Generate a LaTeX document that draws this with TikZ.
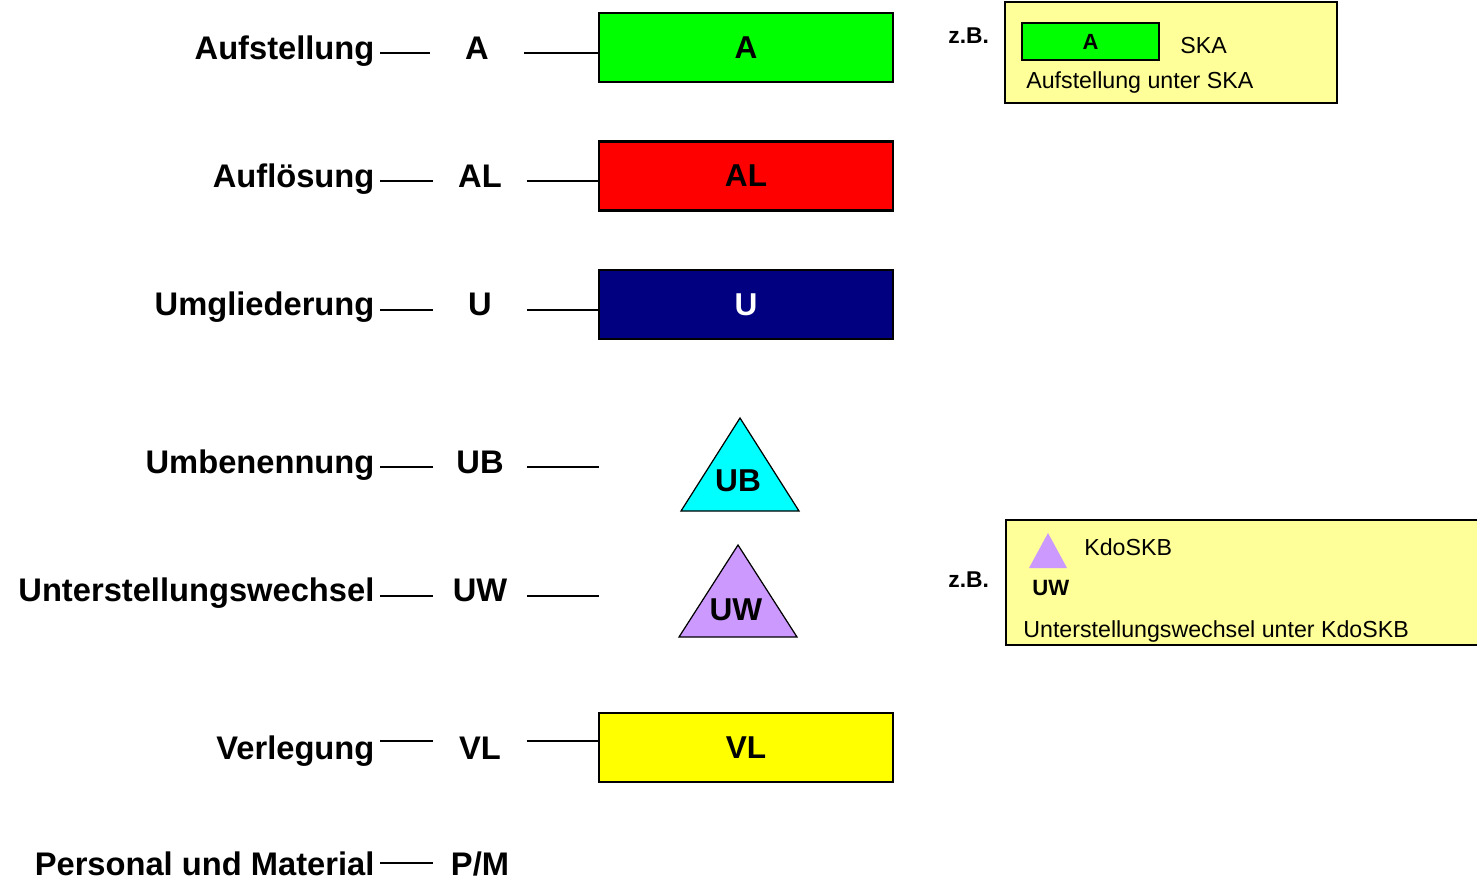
\documentclass[tikz,border=0pt]{standalone}
\usepackage{fontspec}
\setmainfont{Liberation Sans}
\definecolor{barA}{HTML}{00FF00}
\definecolor{barAL}{HTML}{FF0000}
\definecolor{barU}{HTML}{000080}
\definecolor{barVL}{HTML}{FFFF00}
\definecolor{triUB}{HTML}{00FFFF}
\definecolor{triUW}{HTML}{CC99FF}
\definecolor{notefill}{HTML}{FFFF99}
\tikzset{
    term/.style={anchor=base east,inner ysep=0pt,inner xsep=3pt,
        font=\fontsize{18.6}{22}\selectfont\bfseries},
    abbr/.style={anchor=base,inner sep=0pt,minimum width=1.88cm,
        font=\fontsize{18.6}{22}\selectfont\bfseries},
    conn/.style={line width=1.5pt},
    bar/.style={draw,line width=1.6pt,minimum width=5.88cm,minimum height=1.38cm,
        inner sep=0pt,font=\fontsize{18}{22}\selectfont\bfseries},
    tri/.style={draw,line width=0.7pt,line join=miter},
    trilabel/.style={inner sep=0pt,font=\fontsize{18}{22}\selectfont\bfseries},
    note/.style={draw,line width=0.9pt,fill=notefill,inner sep=0pt},
    notetext/.style={anchor=base west,inner sep=0pt,font=\fontsize{13.2}{16}\selectfont},
    zb/.style={anchor=base west,inner sep=0pt,font=\fontsize{13}{16}\selectfont\bfseries}
}
\begin{document}
\begin{tikzpicture}[x=0.02cm,y=-0.02cm]
    \useasboundingbox (0,0) rectangle (1477,880);

    \node[term] (tA) at (380,59.5) {Aufstellung};
    \node[abbr] (aA) at (477,59.5) {A};
    \node[bar,fill=barA] (bA) at (746,47.5) {A};
    \draw[conn] (tA.east |- 0,53) -- (aA.west |- 0,53);
    \draw[conn] (aA.east |- 0,53) -- (bA.west |- 0,53);

    \node[term] (tAL) at (380,187.5) {Auflösung};
    \node[abbr] (aAL) at (480,187.5) {AL};
    \node[bar,fill=barAL] (bAL) at (746,176) {AL};
    \draw[conn] (tAL.east |- 0,181) -- (aAL.west |- 0,181);
    \draw[conn] (aAL.east |- 0,181) -- (bAL.west |- 0,181);

    \node[term] (tU) at (380,315.5) {Umgliederung};
    \node[abbr] (aU) at (480,315.5) {U};
    \node[bar,fill=barU,text=white] (bU) at (746,304.5) {U};
    \draw[conn] (tU.east |- 0,310) -- (aU.west |- 0,310);
    \draw[conn] (aU.east |- 0,310) -- (bU.west |- 0,310);

    \node[term] (tUB) at (380,473.5) {Umbenennung};
    \node[abbr] (aUB) at (480,473.5) {UB};
    \coordinate (eUB) at (599,467);
    \draw[conn] (tUB.east |- 0,467) -- (aUB.west |- 0,467);
    \draw[conn] (aUB.east |- 0,467) -- (eUB);
    \draw[tri,fill=triUB] (740,418) -- (799,511) -- (681,511) -- cycle;
    \node[trilabel] (lUB) at (738,481) {UB};

    \node[term] (tUW) at (380,601.5) {Unterstellungswechsel};
    \node[abbr] (aUW) at (480,601.5) {UW};
    \coordinate (eUW) at (599,596);
    \draw[conn] (tUW.east |- 0,596) -- (aUW.west |- 0,596);
    \draw[conn] (aUW.east |- 0,596) -- (eUW);
    \draw[tri,fill=triUW] (738,545) -- (797,637) -- (679,637) -- cycle;
    \node[trilabel] (lUW) at (736,610) {UW};

    \node[term] (tVL) at (380,759.5) {Verlegung};
    \node[abbr] (aVL) at (480,759.5) {VL};
    \node[bar,fill=barVL] (bVL) at (746,747.5) {VL};
    \draw[conn] (tVL.east |- 0,741) -- (aVL.west |- 0,741);
    \draw[conn] (aVL.east |- 0,741) -- (bVL.west |- 0,741);

    \node[term] (tPM) at (380,875.5) {Personal und Material};
    \node[abbr] (aPM) at (480,875.5) {P/M};
    \draw[conn] (tPM.east |- 0,863) -- (aPM.west |- 0,863);

    \node[zb] (zb1) at (948,43) {z.B.};
    \node[note,minimum width=6.64cm,minimum height=2.02cm] (n1) at (1171,52.5) {};
    \node[draw,line width=0.9pt,fill=barA,minimum width=2.74cm,minimum height=0.74cm,
        inner sep=0pt,font=\fontsize{12.5}{14}\selectfont\bfseries] (s1) at (1090.5,41.5) {A};
    \node[notetext] (k1) at (1180,53.5) {SKA};
    \node[notetext] (x1) at (1026,88) {Aufstellung unter SKA};

    \node[zb] (zb2) at (948,587) {z.B.};
    \node[note,minimum width=9.52cm,minimum height=2.5cm] (n2) at (1244,582.5) {};
    \draw[fill=triUW,draw=none] (1048,533) -- (1067,568) -- (1029,568) -- cycle;
    \node[zb,font=\fontsize{12.6}{15}\selectfont\bfseries] (u2) at (1032,595) {UW};
    \node[notetext] (k2) at (1084,555) {KdoSKB};
    \node[notetext] (x2) at (1023,637) {Unterstellungswechsel unter KdoSKB};
\end{tikzpicture}
\end{document}
